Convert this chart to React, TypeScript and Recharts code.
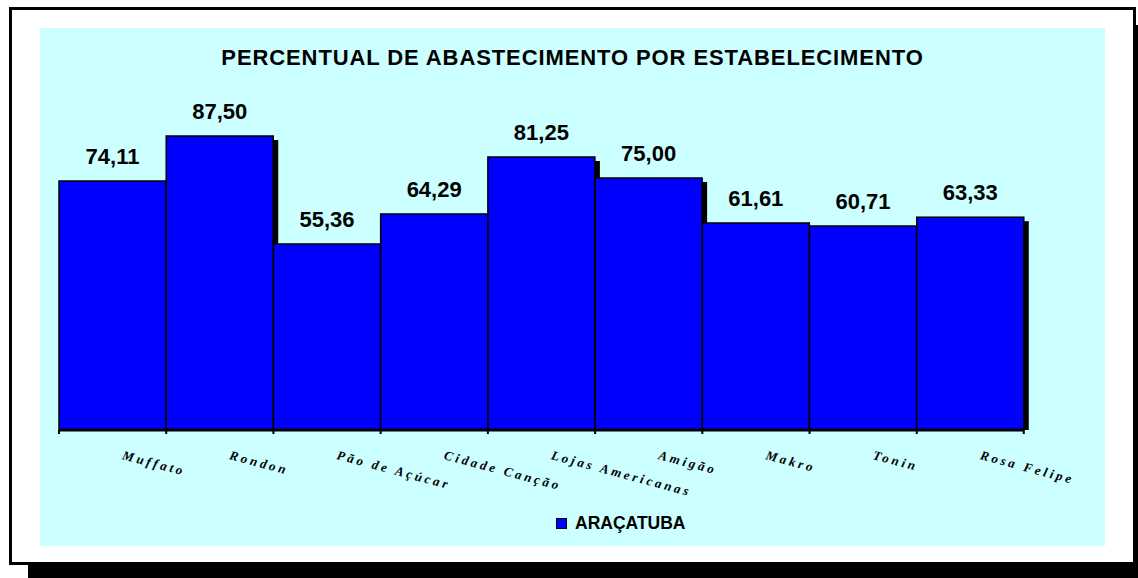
import React from "react";
import { BarChart, Bar, XAxis, YAxis, LabelList } from "recharts";

const categories = [
  "Muffato",
  "Rondon",
  "Pão de Açúcar",
  "Cidade Canção",
  "Lojas Americanas",
  "Amigão",
  "Makro",
  "Tonin",
  "Rosa Felipe",
];
const aracatuba = [74.11, 87.5, 55.36, 64.29, 81.25, 75.0, 61.61, 60.71, 63.33];

const data = categories.map((name, i) => ({ name, value: aracatuba[i] }));

const fmt = (v: number) => v.toFixed(2).replace(".", ",");

const ShadowBar = (props: any) => {
  const { x, y, width, height, index } = props;
  const bottom = y + height;
  return (
    <g>
      <rect x={x + 5} y={y + 4} width={width} height={Math.max(height - 4, 0)} fill="#000" />
      <rect x={x} y={y} width={width} height={height} fill="#0000FF" stroke="#000" strokeWidth={1.5} />
      <line x1={x} y1={bottom} x2={x} y2={bottom + 4} stroke="#000" strokeWidth={2} />
      {index === data.length - 1 && (
        <line x1={x + width} y1={bottom} x2={x + width} y2={bottom + 4} stroke="#000" strokeWidth={2} />
      )}
    </g>
  );
};

const SlantTick = (props: any) => {
  const { x, y, payload } = props;
  const tx = x + 9;
  const ty = y + 21;
  return (
    <text
      x={tx}
      y={ty}
      transform={`rotate(15 ${tx} ${ty})`}
      textAnchor="start"
      fontFamily="Liberation Serif"
      fontStyle="italic"
      fontWeight="bold"
      fontSize={13}
      letterSpacing={3}
      fill="#000"
    >
      {payload.value}
    </text>
  );
};

const App = () => {
  return (
    <div style={{ position: "absolute", left: 0, top: 0, width: 1138, height: 578, background: "#fff", overflow: "hidden" }}>
      {/* shadow of the frame */}
      <div style={{ position: "absolute", left: 28, top: 25, width: 1110, height: 553, background: "#000" }} />
      {/* framed white box */}
      <div
        style={{
          position: "absolute",
          left: 9,
          top: 7,
          width: 1121,
          height: 552,
          background: "#fff",
          border: "3px solid #000",
        }}
      />
      {/* plot panel */}
      <div style={{ position: "absolute", left: 40, top: 28, width: 1065, height: 518, background: "#CCFFFF" }} />
      <div
        style={{
          position: "absolute",
          left: 40,
          width: 1065,
          top: 44,
          textAlign: "center",
          fontFamily: "Liberation Sans, Arial, sans-serif",
          fontWeight: "bold",
          fontSize: 22,
          letterSpacing: 0.9,
          lineHeight: "28px",
          color: "#000",
        }}
      >
        PERCENTUAL DE ABASTECIMENTO POR ESTABELECIMENTO
      </div>
      <div style={{ position: "absolute", left: 0, top: 0 }}>
        <BarChart
          width={1138}
          height={578}
          data={data}
          margin={{ top: 94, right: 114, left: 59, bottom: 118 }}
          barCategoryGap={0}
        >
          <YAxis hide domain={[0, 100]} />
          <XAxis
            dataKey="name"
            height={30}
            interval={0}
            tickLine={false}
            axisLine={{ stroke: "#000", strokeWidth: 3 }}
            tick={<SlantTick />}
          />
          <Bar dataKey="value" shape={<ShadowBar />} isAnimationActive={false}>
            <LabelList
              dataKey="value"
              position="top"
              offset={17}
              formatter={(v: any) => fmt(Number(v))}
              style={{ fontFamily: "Liberation Sans, Arial, sans-serif", fontWeight: "bold", fontSize: 22, fill: "#000" }}
            />
          </Bar>
        </BarChart>
      </div>
      {/* legend */}
      <div
        style={{
          position: "absolute",
          left: 556,
          top: 513,
          display: "flex",
          alignItems: "center",
          fontFamily: "Liberation Sans, Arial, sans-serif",
          fontWeight: "bold",
          fontSize: 17.5,
          color: "#000",
        }}
      >
        <span
          style={{
            display: "inline-block",
            width: 9,
            height: 9,
            background: "#0000FF",
            border: "1.5px solid #000",
            marginRight: 8,
          }}
        />
        ARAÇATUBA
      </div>
    </div>
  );
};

export default App;
